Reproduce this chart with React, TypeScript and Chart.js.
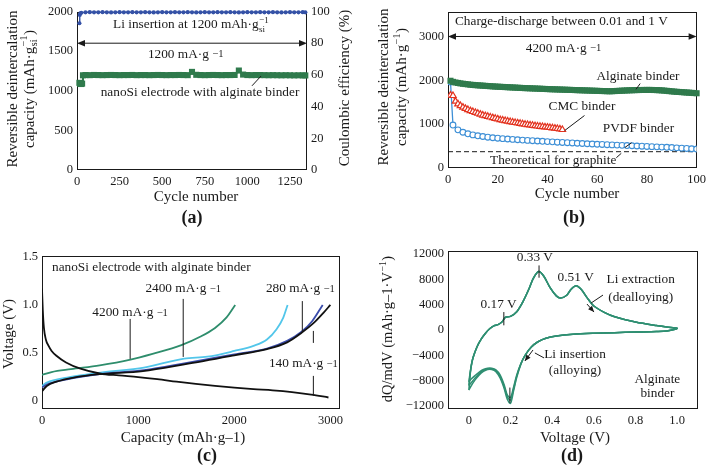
import React, { useEffect, useRef } from 'react';
import { Chart, registerables } from 'chart.js';
Chart.register(...registerables);

const SERIF = '"Liberation Serif", "Times New Roman", Times, serif';
const INK = '#1a1a1a';
const TICK = 12.5;
const TITLE = 15;
const ANN = 13.3;

// ---------------- Panel (a) ----------------
const aXTicks = [0, 250, 500, 750, 1000, 1250];
const aXLabels = ['0', '250', '500', '750', '1000', '1250'];
const aYTicks = [0, 500, 1000, 1500, 2000];
const aYLabels = ['0', '500', '1000', '1500', '2000'];
const aY2Ticks = [0, 20, 40, 60, 80, 100];
const aY2Labels = ['0', '20', '40', '60', '80', '100'];
const aCapCycles = [14, 18, 24, 30, 35, 50, 75, 100, 125, 150, 175, 200, 225, 250, 275, 300, 325, 350, 375, 400, 425, 450, 475, 500, 525, 550, 575, 600, 625, 650, 675, 700, 725, 750, 775, 800, 825, 850, 875, 900, 925, 950, 975, 1000, 1025, 1050, 1075, 1100, 1125, 1150, 1175, 1200, 1225, 1250, 1275, 1300, 1325, 1340];
const aCapValues = [1100, 1088, 1085, 1090, 1195,
  1198, 1197, 1199, 1198, 1197, 1198, 1199, 1198, 1197, 1198,
  1198, 1199, 1197, 1198, 1198, 1197, 1198, 1199, 1198, 1197,
  1198, 1198, 1199, 1198, 1197, 1238, 1201, 1198, 1197, 1198,
  1199, 1198, 1197, 1198, 1198, 1199, 1255, 1204, 1198, 1197,
  1198, 1198, 1197, 1196, 1197, 1196, 1195, 1196, 1195, 1194,
  1195, 1194, 1193];
const aCeCycles = [14, 16, 20, 25, 50, 75, 100, 125, 150, 175, 200, 225, 250, 275, 300, 325, 350, 375, 400, 425, 450, 475, 500, 525, 550, 575, 600, 625, 650, 675, 700, 725, 750, 775, 800, 825, 850, 875, 900, 925, 950, 975, 1000, 1025, 1050, 1075, 1100, 1125, 1150, 1175, 1200, 1225, 1250, 1275, 1300, 1325, 1340];
const aCeValues = [92.6, 97.8, 98.9, 99.2,
  99.5, 99.6, 99.5, 99.5, 99.6, 99.5, 99.4, 99.5, 99.6, 99.5,
  99.5, 99.6, 99.5, 99.5, 99.6, 99.5, 99.4, 99.5, 99.6, 99.5,
  99.5, 99.6, 99.5, 99.5, 99.6, 99.5, 99.4, 99.5, 99.6, 99.5,
  99.5, 99.6, 99.5, 99.5, 99.6, 99.5, 99.4, 99.5, 99.6, 99.5,
  99.5, 99.6, 99.5, 99.5, 99.6, 99.5, 99.4, 99.5, 99.6, 99.5,
  99.5, 99.6, 99.5];

// ---------------- Panel (b) ----------------
const bXTicks = [0, 20, 40, 60, 80, 100];
const bXLabels = ['0', '20', '40', '60', '80', '100'];
const bYTicks = [0, 1000, 2000, 3000];
const bYLabels = ['0', '1000', '2000', '3000'];
const bAlginate = [
  1990, 1965, 1950, 1940, 1930, 1922, 1915, 1908, 1900, 1895,
  1890, 1886, 1882, 1878, 1874, 1870, 1866, 1862, 1858, 1855,
  1852, 1849, 1846, 1843, 1840, 1837, 1834, 1831, 1828, 1825,
  1822, 1820, 1818, 1815, 1813, 1811, 1808, 1806, 1803, 1800,
  1798, 1796, 1794, 1792, 1790, 1788, 1786, 1784, 1782, 1780,
  1778, 1776, 1774, 1772, 1770, 1768, 1766, 1764, 1762, 1760,
  1758, 1756, 1754, 1752, 1750, 1752, 1755, 1758, 1761, 1764,
  1767, 1770, 1772, 1774, 1776, 1778, 1779, 1780, 1780, 1781,
  1781, 1780, 1779, 1777, 1774, 1770, 1765, 1760, 1754, 1748,
  1743, 1738, 1734, 1730, 1726, 1722, 1718, 1714, 1710, 1705];
const bCmc = [
  1660, 1650, 1520, 1460, 1420, 1385, 1355, 1330, 1305, 1285,
  1265, 1245, 1225, 1205, 1190, 1175, 1160, 1145, 1130, 1115,
  1100, 1090, 1078, 1066, 1055, 1045, 1035, 1025, 1015, 1005,
  995, 987, 979, 971, 963, 955, 948, 941, 934, 927,
  920, 913, 906, 898, 888, 875];
const bPvdfCycles = [1, 2, 4, 6, 8, 10, 12, 14, 16, 18, 20, 22, 24, 26, 28, 30, 32, 34, 36, 38, 40, 42, 44, 46, 48, 50, 52, 54, 56, 58, 60, 62, 64, 66, 68, 70, 72, 74, 76, 78, 80, 82, 84, 86, 88, 90, 92, 94, 96, 98, 100];
const bPvdfValues = [1960, 980, 870, 815, 780, 755, 735, 718, 703, 690, 680, 670, 661, 652, 644, 637, 630, 623, 616, 609, 602, 596, 589, 583, 577, 571, 565, 559, 553, 547, 542, 537, 532, 527, 522, 517, 512, 507, 502, 497, 492, 487, 482, 477, 472, 467, 460, 453, 446, 439, 432];
const bGraphiteX = [0, 100];
const bGraphiteY = [372, 372];

// ---------------- Panel (c) ----------------
const cXTicks = [0, 1000, 2000, 3000];
const cXLabels = ['0', '1000', '2000', '3000'];
const cYTicks = [0, 0.5, 1.0, 1.5];
const cYLabels = ['0', '0.5', '1.0', '1.5'];
const cDisCap = [0, 8, 20, 40, 70, 100, 150, 250, 400, 600, 800, 1000, 1200, 1400, 1600, 1800, 2000, 2200, 2400, 2600, 2800, 2980];
const cDisV = [1.17, 0.95, 0.76, 0.64, 0.57, 0.52, 0.47, 0.4, 0.335, 0.285, 0.265, 0.248, 0.226, 0.2, 0.176, 0.155, 0.137, 0.122, 0.11, 0.092, 0.066, 0.035];
const c140Cap = [0, 50, 150, 330, 600, 1050, 1480, 2000, 2340, 2550, 2700, 2830, 2930, 3000];
const c140V = [0.1, 0.155, 0.2, 0.243, 0.278, 0.31, 0.38, 0.475, 0.54, 0.61, 0.71, 0.815, 0.92, 1.0];
const c280Cap = [0, 50, 260, 600, 1060, 1480, 2000, 2340, 2550, 2700, 2810, 2920];
const c280V = [0.14, 0.17, 0.225, 0.28, 0.32, 0.39, 0.485, 0.545, 0.625, 0.72, 0.83, 1.0];
const c2400Cap = [0, 50, 260, 610, 1060, 1480, 1720, 2000, 2200, 2340, 2440, 2510, 2555];
const c2400V = [0.156, 0.19, 0.243, 0.295, 0.347, 0.44, 0.46, 0.52, 0.573, 0.64, 0.747, 0.868, 1.0];
const c4200Cap = [0, 100, 300, 600, 920, 1150, 1450, 1650, 1800, 1920, 2010];
const c4200V = [0.27, 0.3, 0.33, 0.37, 0.43, 0.49, 0.58, 0.67, 0.76, 0.87, 1.0];

// ---------------- Panel (d) ----------------
const dXTicks = [0, 0.2, 0.4, 0.6, 0.8, 1.0];
const dXLabels = ['0', '0.2', '0.4', '0.6', '0.8', '1.0'];
const dYTicks = [-12000, -8000, -4000, 0, 4000, 8000, 12000];
const dYLabels = ['\u221212000', '\u22128000', '\u22124000', '0', '4000', '8000', '12000'];
const dOxV = [0, 0.01, 0.02, 0.04, 0.06, 0.08, 0.1, 0.12, 0.14, 0.16, 0.175, 0.2, 0.23, 0.26, 0.29, 0.31, 0.335, 0.36, 0.39, 0.42, 0.44, 0.47, 0.49, 0.515, 0.54, 0.57, 0.6, 0.65, 0.7, 0.8, 0.9, 0.97, 1.0];
const dOxStart = [-9500, -8800, -8200];
const dOxQ = [-6000, -4400, -2600, -1400, -500, 200, 650, 850, 1300, 2000, 2150, 2900, 4500, 6600, 8200, 9250, 8500, 6700, 5400, 5050, 5500, 6400, 7000, 6400, 5000, 3800, 2800, 2100, 1250, 700, 400, 250];
const dRedV = [0.95, 0.9, 0.8, 0.7, 0.6, 0.5, 0.42, 0.37, 0.33, 0.3, 0.27, 0.25, 0.23, 0.215, 0.2, 0.185, 0.17, 0.15, 0.13, 0.11, 0.09, 0.07, 0.05, 0.03, 0.01, 0];
const dRedQ1 = [-150, -250, -330, -420, -520, -680, -950, -1300, -1900, -2700, -4000, -5400, -7500, -9600, -11600, -11000, -9300, -7600, -6600, -6250, -6250, -6550, -7100, -7900, -8900, -9500];
const dRedQ2 = [-150, -250, -330, -420, -520, -680, -950, -1300, -1900, -2700, -4000, -5350, -7300, -9300, -11100, -10600, -9000, -7350, -6450, -6150, -6150, -6400, -6900, -7600, -8400, -8800];
const dRedQ3 = [-150, -250, -330, -420, -520, -680, -950, -1300, -1900, -2700, -4000, -5300, -7100, -9000, -10700, -10300, -8700, -7100, -6300, -6050, -6050, -6250, -6650, -7200, -7800, -8200];

// ---------------- colours ----------------
const GREEN_A = '#2f7a4c';
const BLUE_A = '#3451a6';
const RED_B = '#e3321f';
const BLUE_B = '#3d8fd6';
const C_GREEN = '#2e8d6c';
const C_CYAN = '#52c6ea';
const C_BLUE = '#3a4cab';
const C_BLACK = '#111111';
const D_GREEN = '#2f8f72';

// ---------------- drawing helpers ----------------
type Seg = { t?: string; sup?: string; sub?: string; k?: number };
const font = (size: number, bold = false) => `${bold ? 'bold ' : ''}${size}px ${SERIF}`;

function drawRich(ctx: CanvasRenderingContext2D, segs: Seg[], x: number, y: number, size: number,
  align: 'left' | 'center' = 'center', rot = 0, bold = false) {
  ctx.save();
  ctx.translate(x, y);
  if (rot) ctx.rotate(rot);
  ctx.fillStyle = INK;
  ctx.textBaseline = 'middle';
  ctx.textAlign = 'left';
  const small = size * 0.68;
  const widths = segs.map((s) => {
    if (s.t !== undefined) { ctx.font = font(size * (s.k || 1), bold); return ctx.measureText(s.t).width; }
    ctx.font = font(small);
    return Math.max(s.sup ? ctx.measureText(s.sup).width : 0, s.sub ? ctx.measureText(s.sub).width : 0) + 1;
  });
  const total = widths.reduce((a, b) => a + b, 0);
  let cx = align === 'center' ? -total / 2 : 0;
  segs.forEach((s, i) => {
    if (s.t !== undefined) {
      ctx.font = font(size * (s.k || 1), bold);
      ctx.fillText(s.t, cx, 0);
    } else {
      ctx.font = font(small);
      if (s.sup) ctx.fillText(s.sup, cx + 0.5, s.sub ? -size * 0.36 : -size * 0.3);
      if (s.sub) ctx.fillText(s.sub, cx + 0.5, size * 0.32);
    }
    cx += widths[i];
  });
  ctx.restore();
}

function line(ctx: CanvasRenderingContext2D, x1: number, y1: number, x2: number, y2: number, w = 1) {
  ctx.save();
  ctx.strokeStyle = INK;
  ctx.lineWidth = w;
  ctx.beginPath();
  ctx.moveTo(x1, y1);
  ctx.lineTo(x2, y2);
  ctx.stroke();
  ctx.restore();
}

function head(ctx: CanvasRenderingContext2D, x: number, y: number, ang: number, len = 8, w = 3.2) {
  const c = Math.cos(ang), s = Math.sin(ang);
  ctx.beginPath();
  ctx.moveTo(x, y);
  ctx.lineTo(x - len * c + w * s, y - len * s - w * c);
  ctx.lineTo(x - len * c - w * s, y - len * s + w * c);
  ctx.closePath();
  ctx.fill();
}

function dblArrow(ctx: CanvasRenderingContext2D, x1: number, x2: number, y: number) {
  ctx.save();
  ctx.strokeStyle = INK;
  ctx.fillStyle = INK;
  ctx.lineWidth = 1;
  ctx.beginPath();
  ctx.moveTo(x1 + 4, y);
  ctx.lineTo(x2 - 4, y);
  ctx.stroke();
  head(ctx, x1, y, Math.PI);
  head(ctx, x2, y, 0);
  ctx.restore();
}

function arrow(ctx: CanvasRenderingContext2D, x1: number, y1: number, x2: number, y2: number) {
  ctx.save();
  ctx.strokeStyle = INK;
  ctx.fillStyle = INK;
  ctx.lineWidth = 1;
  ctx.beginPath();
  ctx.moveTo(x1, y1);
  ctx.lineTo(x2, y2);
  ctx.stroke();
  head(ctx, x2, y2, Math.atan2(y2 - y1, x2 - x1), 6, 2.6);
  ctx.restore();
}

const framePlugin = {
  id: 'frame',
  beforeDatasetsDraw(chart: any) {
    const { ctx, chartArea } = chart;
    const l = Math.round(chartArea.left) + 0.5;
    const t = Math.round(chartArea.top) + 0.5;
    const r = Math.round(chartArea.right) - 0.5;
    const b = Math.round(chartArea.bottom) - 0.5;
    ctx.save();
    ctx.strokeStyle = INK;
    ctx.lineWidth = 1;
    ctx.strokeRect(l, t, r - l, b - t);
    ctx.restore();
  },
};

function axis(min: number, max: number, ticks: number[], labels: string[], pos: 'left' | 'right' | 'bottom', size: number) {
  const isX = pos === 'bottom';
  return {
    type: 'linear',
    position: pos,
    min,
    max,
    grid: { display: false, drawTicks: false },
    border: { display: false },
    ticks: {
      color: INK,
      font: { family: SERIF, size: TICK },
      padding: 4,
      autoSkip: false,
      maxRotation: 0,
      minRotation: 0,
      callback: (_v: any, i: number) => labels[i],
    },
    afterBuildTicks: (s: any) => { s.ticks = ticks.map((v) => ({ value: v })); },
    afterFit: (s: any) => { if (isX) s.height = size; else s.width = size; },
  };
}

const pts = (xs: number[], ys: number[]) => xs.map((x, i) => ({ x, y: ys[i] }));
const seq = (n: number) => Array.from({ length: n }, (_, i) => i + 1);

const baseOptions = (padding: any, scales: any) => ({
  animation: false,
  responsive: false,
  events: [],
  layout: { padding },
  plugins: { legend: { display: false }, tooltip: { enabled: false } },
  scales,
});

// ---------------- configs ----------------
function configA(): any {
  const ann = {
    id: 'annA',
    afterDraw(chart: any) {
      const ctx = chart.ctx;
      const X = (v: number) => chart.scales.x.getPixelForValue(v);
      const Y = (v: number) => chart.scales.y.getPixelForValue(v);
      const ca = chart.chartArea;
      drawRich(ctx, [{ t: 'Li insertion at 1200 mAh\u00b7g' }, { sup: '\u22121', sub: 'si' }], X(670), Y(1830), ANN);
      dblArrow(ctx, ca.left, ca.right, Y(1600));
      drawRich(ctx, [{ t: '1200 mA\u00b7g ' }, { t: '\u22121', k: 0.8 }], X(638), Y(1460), ANN);
      drawRich(ctx, [{ t: 'nanoSi electrode with alginate binder' }], X(722), Y(979), ANN);
      line(ctx, X(1080), Y(1185), X(1027), Y(1062));
      drawRich(ctx, [{ t: 'Reversible deintercalation' }], 13, 89, TITLE, 'center', -Math.PI / 2);
      drawRich(ctx, [{ t: 'capacity (mAh\u00b7g' }, { sup: '\u22121', sub: 'si' }, { t: ')' }], 30, 89, TITLE, 'center', -Math.PI / 2);
      drawRich(ctx, [{ t: 'Coulombic efficiency (%)' }], 345, 88, TITLE, 'center', -Math.PI / 2);
      drawRich(ctx, [{ t: 'Cycle number' }], 196, 197, TITLE);
      drawRich(ctx, [{ t: '(a)' }], 192, 218, 18, 'center', 0, true);
    },
  };
  return {
    type: 'line',
    data: {
      datasets: [
        {
          data: pts(aCeCycles, aCeValues), yAxisID: 'y1', borderColor: BLUE_A, backgroundColor: BLUE_A,
          pointBackgroundColor: BLUE_A, pointBorderColor: BLUE_A, pointRadius: 2.1, pointBorderWidth: 0, borderWidth: 1.4, clip: false,
        },
        {
          data: pts(aCapCycles, aCapValues), yAxisID: 'y', borderColor: GREEN_A, backgroundColor: GREEN_A,
          pointStyle: 'rect', pointBackgroundColor: GREEN_A, pointBorderColor: GREEN_A, pointRadius: 4.3, pointBorderWidth: 0, borderWidth: 2, clip: false,
        },
      ],
    },
    options: baseOptions({ top: 8, right: 0, left: 0, bottom: 0 }, {
      x: axis(0, 1350, aXTicks, aXLabels, 'bottom', 66),
      y: axis(0, 2000, aYTicks, aYLabels, 'left', 77),
      y1: axis(0, 100, aY2Ticks, aY2Labels, 'right', 48),
    }),
    plugins: [framePlugin, ann],
  };
}

function configB(): any {
  const ann = {
    id: 'annB',
    afterDraw(chart: any) {
      const ctx = chart.ctx;
      const X = (v: number) => chart.scales.x.getPixelForValue(v);
      const Y = (v: number) => chart.scales.y.getPixelForValue(v);
      const ca = chart.chartArea;
      drawRich(ctx, [{ t: 'Charge-discharge between 0.01 and 1 V' }], X(2.8), Y(3348), ANN, 'left');
      dblArrow(ctx, ca.left, ca.right, Y(3000));
      drawRich(ctx, [{ t: '4200 mA\u00b7g ' }, { t: '\u22121', k: 0.8 }], X(46.5), Y(2729), ANN);
      drawRich(ctx, [{ t: 'Alginate binder' }], X(76.4), Y(2085), ANN);
      line(ctx, X(77.3), Y(1926), X(75.6), Y(1794));
      drawRich(ctx, [{ t: 'CMC binder' }], X(53.9), Y(1393), ANN);
      line(ctx, X(54.9), Y(1197), X(46.9), Y(853));
      drawRich(ctx, [{ t: 'PVDF binder' }], X(76.6), Y(904), ANN);
      line(ctx, X(73.8), Y(575), X(71.1), Y(466));
      drawRich(ctx, [{ t: 'Theoretical for graphite' }], X(42.3), Y(175), ANN);
      line(ctx, X(69.7), Y(335), X(67.7), Y(234));
      drawRich(ctx, [{ t: 'Reversible deintercalation' }], 29, 87, TITLE, 'center', -Math.PI / 2);
      drawRich(ctx, [{ t: 'capacity (mAh\u00b7g' }, { sup: '\u22121' }, { t: ')' }], 47, 87, TITLE, 'center', -Math.PI / 2);
      drawRich(ctx, [{ t: 'Cycle number' }], 222, 194, TITLE);
      drawRich(ctx, [{ t: '(b)' }], 219, 218, 18, 'center', 0, true);
    },
  };
  return {
    type: 'line',
    data: {
      datasets: [
        {
          data: pts(seq(100), bAlginate), borderColor: GREEN_A, backgroundColor: GREEN_A, pointStyle: 'rect',
          pointBackgroundColor: GREEN_A, pointBorderColor: GREEN_A, pointRadius: 4.3, pointBorderWidth: 0, borderWidth: 1.5, clip: false,
        },
        {
          data: pts(seq(46), bCmc), borderColor: RED_B, backgroundColor: '#ffffff', pointStyle: 'triangle',
          pointBackgroundColor: '#ffffff', pointBorderColor: RED_B, pointRadius: 3.7, pointBorderWidth: 1.2, borderWidth: 1.2,
        },
        {
          data: pts(bPvdfCycles, bPvdfValues), borderColor: BLUE_B, backgroundColor: '#ffffff', pointStyle: 'circle',
          pointBackgroundColor: '#ffffff', pointBorderColor: BLUE_B, pointRadius: 2.9, pointBorderWidth: 1.1, borderWidth: 1.3,
        },
        {
          data: pts(bGraphiteX, bGraphiteY), borderColor: INK, borderDash: [5, 3], borderWidth: 1, pointRadius: 0,
        },
      ],
    },
    options: baseOptions({ top: 5, right: 13, left: 0, bottom: 0 }, {
      x: axis(0, 100, bXTicks, bXLabels, 'bottom', 68),
      y: axis(0, 3570, bYTicks, bYLabels, 'left', 93),
    }),
    plugins: [framePlugin, ann],
  };
}

function configC(): any {
  const ann = {
    id: 'annC',
    afterDraw(chart: any) {
      const ctx = chart.ctx;
      const X = (v: number) => chart.scales.x.getPixelForValue(v);
      const Y = (v: number) => chart.scales.y.getPixelForValue(v);
      drawRich(ctx, [{ t: 'nanoSi electrode with alginate binder' }], X(104), Y(1.385), ANN, 'left');
      drawRich(ctx, [{ t: '4200 mA\u00b7g ' }, { t: '\u22121', k: 0.8 }], X(917), Y(0.917), ANN);
      line(ctx, X(917), Y(0.854), X(917), Y(0.4375));
      drawRich(ctx, [{ t: '2400 mA\u00b7g ' }, { t: '\u22121', k: 0.8 }], X(1469), Y(1.167), ANN);
      line(ctx, X(1469), Y(1.0625), X(1469), Y(0.458));
      drawRich(ctx, [{ t: '280 mA\u00b7g ' }, { t: '\u22121', k: 0.8 }], X(2688), Y(1.167), ANN);
      line(ctx, X(2708), Y(1.04), X(2708), Y(0.708));
      drawRich(ctx, [{ t: '140 mA\u00b7g ' }, { t: '\u22121', k: 0.8 }], X(2719), Y(0.385), ANN);
      line(ctx, X(2823), Y(0.729), X(2823), Y(0.604));
      line(ctx, X(2823), Y(0.26), X(2823), Y(0.052));
      drawRich(ctx, [{ t: 'Voltage (V)' }], 9, 98, TITLE, 'center', -Math.PI / 2);
      drawRich(ctx, [{ t: 'Capacity (mAh\u00b7g\u20131)' }], 183, 202, TITLE);
      drawRich(ctx, [{ t: '(c)' }], 207, 220, 18, 'center', 0, true);
    },
  };
  const ds = (xs: number[], ys: number[], color: string) => ({
    data: pts(xs, ys), borderColor: color, backgroundColor: color, pointRadius: 0, borderWidth: 1.8,
    cubicInterpolationMode: 'monotone',
  });
  return {
    type: 'line',
    data: {
      datasets: [
        ds(cDisCap, cDisV, C_BLACK),
        ds(c140Cap, c140V, C_BLACK),
        ds(c280Cap, c280V, C_BLUE),
        ds(c2400Cap, c2400V, C_CYAN),
        ds(c4200Cap, c4200V, C_GREEN),
      ],
    },
    options: baseOptions({ top: 20, right: 15, left: 0, bottom: 0 }, {
      x: axis(0, 3100, cXTicks, cXLabels, 'bottom', 64),
      y: axis(-0.085, 1.51, cYTicks, cYLabels, 'left', 42),
    }),
    plugins: [framePlugin, ann],
  };
}

function configD(): any {
  const ann = {
    id: 'annD',
    afterDraw(chart: any) {
      const ctx = chart.ctx;
      const X = (v: number) => chart.scales.x.getPixelForValue(v);
      const Y = (v: number) => chart.scales.y.getPixelForValue(v);
      drawRich(ctx, [{ t: '0.33 V' }], X(0.317), Y(11420), ANN);
      drawRich(ctx, [{ t: '0.51 V' }], X(0.513), Y(8270), ANN);
      drawRich(ctx, [{ t: '0.17 V' }], X(0.143), Y(4060), ANN);
      drawRich(ctx, [{ t: 'Li extraction' }], X(0.825), Y(8000), ANN);
      drawRich(ctx, [{ t: '(dealloying)' }], X(0.825), Y(5210), ANN);
      drawRich(ctx, [{ t: 'Li insertion' }], X(0.51), Y(-3950), ANN);
      drawRich(ctx, [{ t: '(alloying)' }], X(0.51), Y(-6480), ANN);
      drawRich(ctx, [{ t: 'Alginate' }], X(0.905), Y(-7790), ANN);
      drawRich(ctx, [{ t: 'binder' }], X(0.905), Y(-10000), ANN);
      line(ctx, X(0.168), Y(2840), X(0.168), Y(740));
      line(ctx, X(0.337), Y(10220), X(0.337), Y(8270));
      line(ctx, X(0.197), Y(-9110), X(0.197), Y(-11480));
      line(ctx, X(0.644), Y(5530), X(0.587), Y(4270));
      arrow(ctx, X(0.567), Y(4110), X(0.601), Y(2840));
      arrow(ctx, X(0.308), Y(-3160), X(0.269), Y(-4900));
      line(ctx, X(0.317), Y(-3630), X(0.361), Y(-4420));
      drawRich(ctx, [{ t: 'dQ/mdV (mAh\u00b7g\u20131\u00b7V' }, { sup: '\u22121' }, { t: ')' }], 33, 93, 14.5, 'center', -Math.PI / 2);
      drawRich(ctx, [{ t: 'Voltage (V)' }], 220, 202, TITLE);
      drawRich(ctx, [{ t: '(d)' }], 217, 220, 18, 'center', 0, true);
    },
  };
  const loop = (start: number, red: number[]) => ({
    data: pts([...dOxV, ...dRedV], [start, ...dOxQ, ...red]),
    borderColor: D_GREEN, pointRadius: 0, borderWidth: 1.5, tension: 0.3,
  });
  return {
    type: 'line',
    data: {
      datasets: [
        loop(dOxStart[0], dRedQ1),
        loop(dOxStart[1], dRedQ2),
        loop(dOxStart[2], dRedQ3),
      ],
    },
    options: baseOptions({ top: 15, right: 12, left: 0, bottom: 0 }, {
      x: axis(-0.1, 1.1, dXTicks, dXLabels, 'bottom', 64),
      y: axis(-12500, 12500, dYTicks, dYLabels, 'left', 93),
    }),
    plugins: [framePlugin, ann],
  };
}

function Panel({ left, top, width, height, make }: { left: number; top: number; width: number; height: number; make: () => any }) {
  const ref = useRef<HTMLCanvasElement>(null);
  useEffect(() => {
    const chart = new Chart(ref.current as HTMLCanvasElement, make());
    return () => chart.destroy();
  }, []);
  return (
    <div style={{ position: 'absolute', left, top, width, height }}>
      <canvas ref={ref} width={width} height={height} style={{ width, height, display: 'block' }} />
    </div>
  );
}

export default function App() {
  return (
    <div style={{ position: 'absolute', left: 0, top: 0, width: 710, height: 473, background: '#ffffff', overflow: 'hidden' }}>
      <Panel left={0} top={0} width={355} height={236} make={configA} />
      <Panel left={355} top={0} width={355} height={236} make={configB} />
      <Panel left={0} top={236} width={355} height={237} make={configC} />
      <Panel left={355} top={236} width={355} height={237} make={configD} />
    </div>
  );
}
